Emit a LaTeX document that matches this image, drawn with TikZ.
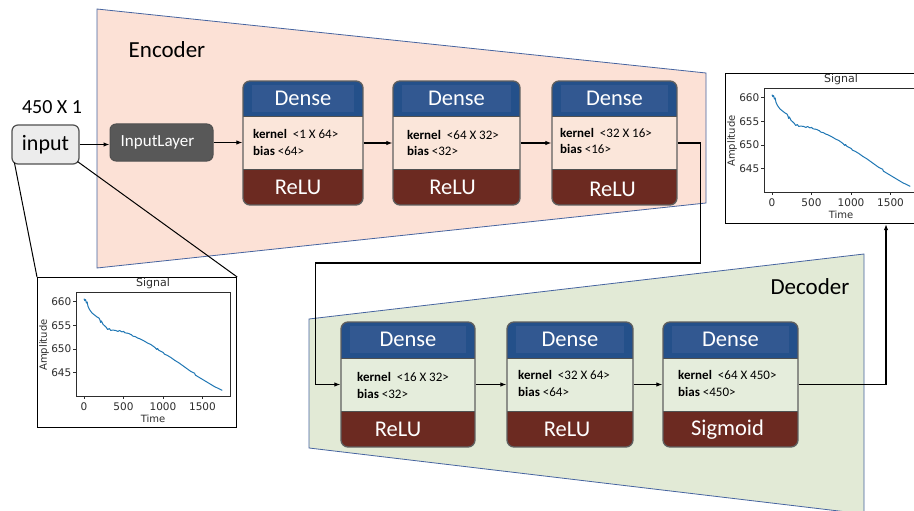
\documentclass[tikz,border=0pt]{standalone}
\usepackage{fontspec}
\setmainfont{Carlito}
\newfontfamily\plotfont{DejaVu Sans}
\usetikzlibrary{arrows.meta,calc}

\definecolor{encfill}{RGB}{252,225,214}
\definecolor{encmid}{RGB}{251,230,218}
\definecolor{decfill}{RGB}{226,234,214}
\definecolor{decmid}{RGB}{229,237,220}
\definecolor{edgeblue}{RGB}{70,100,160}
\definecolor{headblue}{RGB}{36,80,138}
\definecolor{headinner}{RGB}{50,88,145}
\definecolor{actred}{RGB}{108,42,33}
\definecolor{boxgrey}{RGB}{95,95,95}
\definecolor{sepgrey}{RGB}{80,80,80}
\definecolor{inputgrey}{RGB}{236,236,236}
\definecolor{ilgrey}{RGB}{88,88,88}
\definecolor{sigblue}{RGB}{31,119,180}
\definecolor{axisgrey}{RGB}{45,45,45}

% one plot of the signal, framed; #1 = frame name, #2 = top-left corner
\newcommand\sigplot[2]{%
  \begin{scope}[shift={(#2)}]
    \node[plotframe, anchor=north west] (#1) at (0,0) {};
    \draw[axisline] (39,15.5) rectangle (193,119);
    \foreach \v/\yy in {660/24.5,655/48.25,650/72,645/95.75} {
      \draw[axisline] (39,\yy) -- (36,\yy);
      \node[ticklbl, anchor=east] (#1y\v) at (34.5,\yy) {\v};
    }
    \foreach \v/\xx in {0/47,500/86.5,1000/126,1500/165.5} {
      \draw[axisline] (\xx,119) -- (\xx,122);
      \node[ticklbl] (#1x\v) at (\xx,130) {\v};
    }
    \node[plotlbl, font=\plotfont\fontsize{11}{11}\selectfont] (#1title) at (116,6.5) {Signal};
    \node[plotlbl] (#1time) at (116,141.5) {Time};
    \node[plotlbl, rotate=90] (#1amp) at (7,68) {Amplitude};
    \begin{scope}[shift={(47,24.5)}, x=0.079pt, y=4.75pt]
      \draw[sigblue, line width=1pt, line join=round] plot coordinates {
        (0,0.6) (10,0.2) (20,0.4) (30,-0.3) (40,-0.1) (50,-1.0) (70,-1.7)
        (100,-2.4) (130,-2.8) (160,-3.2) (190,-3.5) (200,-3.8) (210,-4.4)
        (220,-4.1) (240,-4.8) (260,-5.1) (280,-5.4) (300,-5.9) (320,-5.7)
        (340,-6.1) (360,-6.0) (400,-6.1) (430,-6.3) (450,-6.1) (480,-6.4)
        (500,-6.3) (520,-6.6) (560,-6.7) (600,-7.0) (620,-7.3) (650,-7.4)
        (680,-7.7) (700,-7.8) (750,-8.2) (800,-8.7) (850,-9.1) (900,-9.7)
        (920,-10.1) (930,-9.9) (950,-10.3) (1000,-10.7) (1020,-11.1)
        (1050,-11.3) (1100,-11.8) (1150,-12.4) (1200,-12.9) (1250,-13.5)
        (1300,-14.1) (1350,-14.7) (1400,-15.1) (1410,-15.5) (1450,-15.9)
        (1500,-16.4) (1550,-16.9) (1600,-17.4) (1650,-17.9) (1700,-18.3)
        (1750,-18.7)};
    \end{scope}
  \end{scope}}

\begin{document}
\begin{tikzpicture}[x=1pt, y=-1pt,
  layer/.style={draw=boxgrey, line width=1.3pt, rounded corners=7pt, inner sep=0pt,
    minimum height=124pt,
    path picture={
      \fill[headblue, sharp corners] (path picture bounding box.north west)
        rectangle ([yshift=-36pt]path picture bounding box.north east);
      \fill[headinner, sharp corners] ([xshift=9pt,yshift=-4pt]path picture bounding box.north west)
        rectangle ([xshift=-9pt,yshift=-31pt]path picture bounding box.north east);
      \fill[actred, sharp corners] (path picture bounding box.south west)
        rectangle ([yshift=36pt]path picture bounding box.south east);
      \draw[sepgrey, line width=1pt, sharp corners] ([yshift=-36pt]path picture bounding box.north west)
        -- ([yshift=-36pt]path picture bounding box.north east);
      \draw[sepgrey, line width=1pt, sharp corners] ([yshift=36pt]path picture bounding box.south west)
        -- ([yshift=36pt]path picture bounding box.south east);
    }},
  bandtxt/.style={text=white, inner sep=0pt, font=\fontsize{22.5}{22.5}\selectfont},
  kern/.style={anchor=west, inner sep=0pt, font=\fontsize{13}{13}\selectfont},
  conn/.style={draw=black, line width=1.1pt, -{Latex[length=6pt,width=4.5pt]}},
  plain/.style={draw=black, line width=1pt},
  region/.style={draw=edgeblue, line width=0.8pt},
  plotframe/.style={draw=black, line width=1.2pt, fill=white, minimum width=199pt,
    minimum height=150pt, inner sep=0pt},
  axisline/.style={draw=axisgrey, line width=0.8pt},
  ticklbl/.style={inner sep=0pt, text=axisgrey, font=\plotfont\fontsize{10.5}{10.5}\selectfont},
  plotlbl/.style={inner sep=0pt, text=axisgrey, font=\plotfont\fontsize{10}{10}\selectfont},
  title/.style={inner sep=0pt, font=\fontsize{23}{23}\selectfont}
]
\useasboundingbox (0,0) rectangle (914,511);
\clip (0,0) rectangle (914,511);
\fill[white] (0,0) rectangle (914,511);

% encoder and decoder regions
\filldraw[fill=encfill, region] (97,9) -- (706,73) -- (706,203) -- (97,268) -- cycle;
\filldraw[fill=decfill, region] (309,319) -- (864,254) -- (864,514) -- (309,448) -- cycle;
\node[title] (enc) at (167,50) {Encoder};
\node[title] (dec) at (810,287) {Decoder};

% input and input layer
\node[inner sep=0pt, font=\fontsize{20}{20}\selectfont] (dims) at (52,107) {450 X 1};
\node[draw=sepgrey, line width=1.2pt, fill=inputgrey, rounded corners=6pt,
  minimum width=67pt, minimum height=39pt, inner sep=0pt,
  font=\fontsize{22}{22}\selectfont] (input) at (45.5,144.5) {input};
\node[draw=sepgrey, line width=1pt, fill=ilgrey, rounded corners=6pt, text=white,
  minimum width=103pt, minimum height=37pt, inner sep=0pt,
  font=\fontsize{17}{17}\selectfont] (il) at (161.5,142.5) {\hspace*{-8pt}InputLayer};

% encoder layers
\node[layer, fill=encmid, minimum width=120pt] (e1) at (303,143) {};
\node[layer, fill=encmid, minimum width=127pt] (e2) at (456.5,143) {};
\node[layer, fill=encmid, minimum width=125pt] (e3) at (614.5,143) {};
\foreach \n in {e1,e2,e3} {
  \node[bandtxt] (\n d) at ([yshift=-18pt]\n.north) {Dense};
}
\node[bandtxt] (e1a) at ([xshift=-5pt,yshift=18pt]e1.south) {ReLU};
\node[bandtxt] (e2a) at ([xshift=-4pt,yshift=18pt]e2.south) {ReLU};
\node[bandtxt] (e3a) at ([xshift=-2pt,yshift=16pt]e3.south) {ReLU};
\node[kern] (e1k) at (253,134) {\textbf{kernel}\hspace{6pt}<1 X 64>};
\node[kern] (e1b) at (253,151) {\textbf{bias} <64>};
\node[kern] (e2k) at (407,135) {\textbf{kernel}\hspace{6pt}<64 X 32>};
\node[kern] (e2b) at (407,151) {\textbf{bias} <32>};
\node[kern] (e3k) at (560,133) {\textbf{kernel}\hspace{6pt}<32 X 16>};
\node[kern] (e3b) at (560,149) {\textbf{bias} <16>};

% decoder layers
\node[layer, fill=decmid, minimum width=134pt, minimum height=125pt] (d1) at (408,384.5) {};
\node[layer, fill=decmid, minimum width=126pt, minimum height=125pt] (d2) at (570,384.5) {};
\node[layer, fill=decmid, minimum width=135pt, minimum height=125pt] (d3) at (730.5,384.5) {};
\foreach \n in {d1,d2,d3} {
  \node[bandtxt] (\n d) at ([yshift=-18pt]\n.north) {Dense};
}
\node[bandtxt] (d1a) at ([xshift=-10pt,yshift=18pt]d1.south) {ReLU};
\node[bandtxt] (d2a) at ([xshift=-3pt,yshift=18pt]d2.south) {ReLU};
\node[bandtxt] (d3a) at ([xshift=-3pt,yshift=18pt]d3.south) {Sigmoid};
\node[kern] (d1k) at (357,377) {\textbf{kernel}\hspace{6pt}<16 X 32>};
\node[kern] (d1b) at (357,394) {\textbf{bias} <32>};
\node[kern] (d2k) at (518,375) {\textbf{kernel}\hspace{6pt}<32 X 64>};
\node[kern] (d2b) at (518,392) {\textbf{bias} <64>};
\node[kern] (d3k) at (678,375) {\textbf{kernel}\hspace{6pt}<64 X 450>};
\node[kern] (d3b) at (678,392) {\textbf{bias} <450>};

% signal plots
\sigplot{sigin}{37,277}
\sigplot{sigout}{725,73}

% connectors
\draw[conn] (input.east) -- (input.east -| il.west);
\draw[conn] (il.east) -- (il.east -| e1.west);
\draw[conn] (e1.east) -- (e2.west);
\draw[conn] (e2.east) -- (e3.west);
\draw[conn] (e3.east) -- ++(23,0) -- ++(0,120) -| ([xshift=-25pt]d1.west) -- (d1.west);
\draw[conn] (d1.east) -- (d2.west);
\draw[conn] (d2.east) -- (d3.west);
\draw[conn] (d3.east) -| ([xshift=161pt]sigout.south west);
\draw[plain] ([shift={(3,-2)}]input.south west) -- (sigin.north west);
\draw[plain] ([shift={(-2,-3)}]input.south east) -- (sigin.north east);
\end{tikzpicture}
\end{document}
